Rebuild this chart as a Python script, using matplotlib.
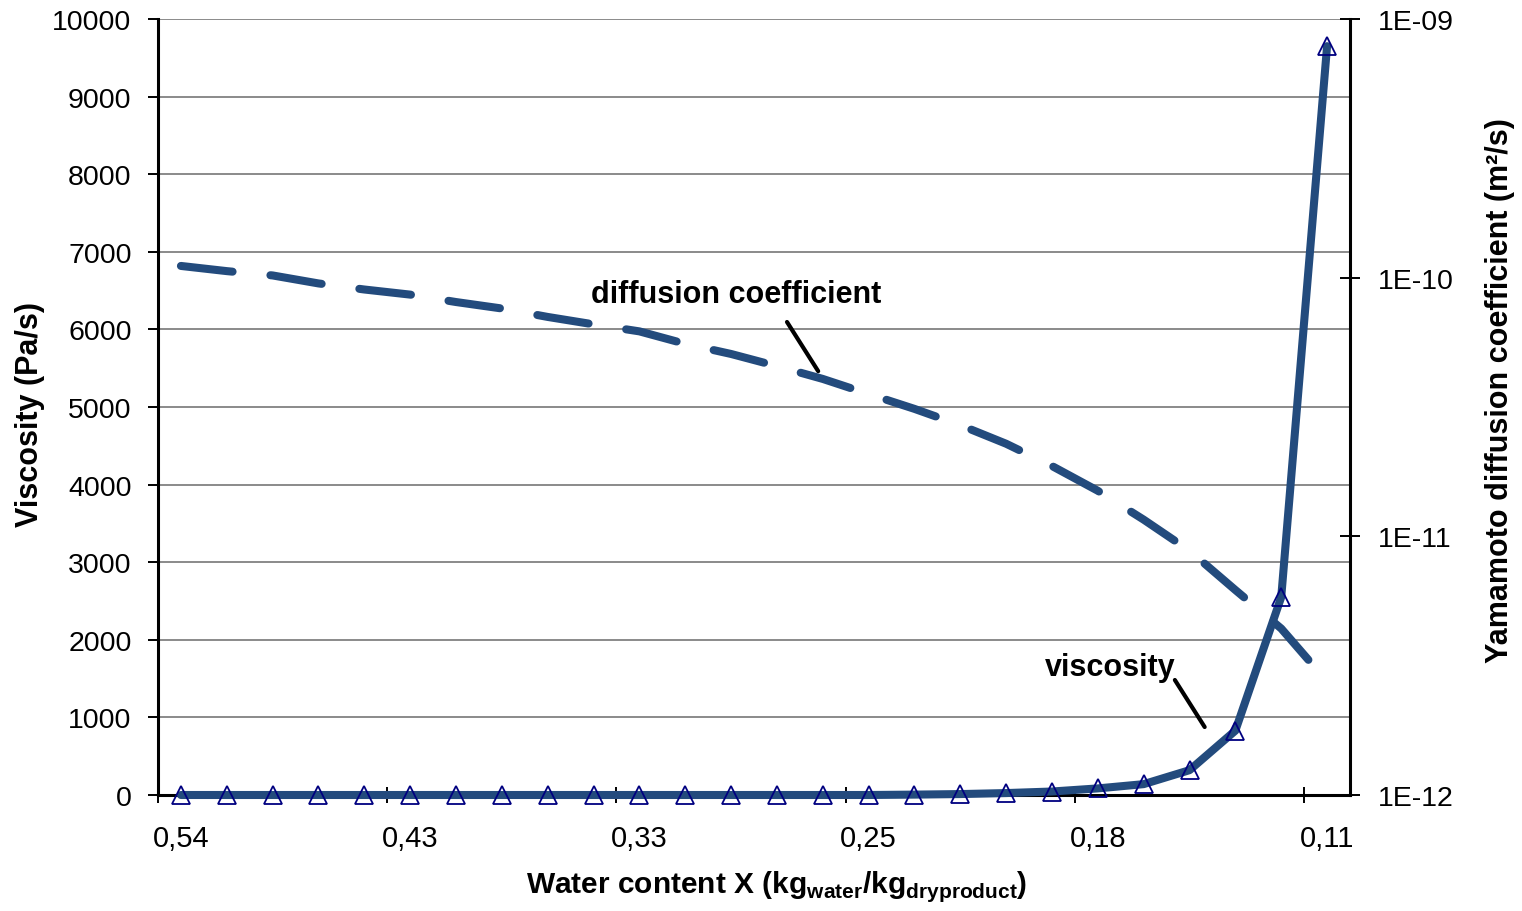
import matplotlib
matplotlib.use("Agg")
import matplotlib.pyplot as plt
from matplotlib.ticker import FixedLocator, FuncFormatter, NullLocator
import numpy as np

# water content labels shown under every fifth sample (kg water / kg dry product)
x_labels = ["0,54", "0,43", "0,33", "0,25", "0,18", "0,11"]

# viscosity of the product at each sample (Pa/s)
viscosity = [0, 0, 0, 0, 0, 0, 0, 0, 0, 0, 0, 0, 0, 0, 0, 0,
             5, 12, 25, 45, 85, 140, 320, 830, 2550, 9650]

# Yamamoto diffusion coefficient at each sample (m2/s)
diffusion = [1.11e-10, 1.06e-10, 1.02e-10, 9.5e-11, 9.0e-11, 8.6e-11,
             8.05e-11, 7.6e-11, 7.05e-11, 6.6e-11, 6.2e-11, 5.55e-11,
             5.07e-11, 4.55e-11, 4.06e-11, 3.55e-11, 3.11e-11, 2.69e-11,
             2.28e-11, 1.87e-11, 1.50e-11, 1.16e-11, 8.8e-12, 6.2e-12,
             4.4e-12, 2.75e-12]

LINE_COLOR = "#234b7d"
MARKER_COLOR = "#000080"
GRID_COLOR = "#8a8a8a"

plt.rcParams["font.family"] = ["Liberation Sans", "DejaVu Sans"]
plt.rcParams["mathtext.fontset"] = "custom"
plt.rcParams["mathtext.rm"] = "Liberation Sans"
plt.rcParams["mathtext.bf"] = "Liberation Sans:bold"


def plot_results():
  fig = plt.figure(figsize=(15.22, 9.12), dpi=100)
  ax1 = fig.add_axes([158 / 1522, 1 - 796 / 912, 1192 / 1522, 776 / 912])
  ax2 = ax1.twinx()

  x = np.arange(len(viscosity))

  # viscosity: solid line with open triangles (left axis)
  ax1.plot(x, viscosity, color=LINE_COLOR, lw=5.8, solid_joinstyle="round",
           solid_capstyle="round", zorder=3, clip_on=False)
  ax1.plot(x, viscosity, ls="none", marker="^", ms=13, mfc="none",
           mec=MARKER_COLOR, mew=1.3, zorder=4, clip_on=False)

  # diffusion coefficient: dashed line (right log axis)
  ax2.plot(x, diffusion, color=LINE_COLOR, lw=5.8, ls=(0, (6.45, 4.72)),
           dash_capstyle="round", clip_on=False)

  # left axis
  ax1.set_ylim(0, 10000)
  ax1.set_yticks(np.arange(0, 10001, 1000))
  ax1.yaxis.grid(True, color=GRID_COLOR, lw=1.4)
  ax1.set_axisbelow(True)
  ax1.tick_params(axis="y", direction="out", length=7, width=1.4, pad=12,
                  labelsize=20.5)

  # category axis: ticks between groups of five, labels on the samples
  ax1.set_xlim(-0.5, len(viscosity) - 0.5)
  ax1.set_xticks(np.arange(-0.5, len(viscosity) - 1, 5))
  ax1.set_xticklabels([])
  ax1.set_xticks(np.arange(0, len(viscosity), 5), minor=True)
  ax1.set_xticklabels(x_labels, minor=True)
  ax1.tick_params(axis="x", which="major", direction="inout", length=11.5,
                  width=1.4)
  ax1.tick_params(axis="x", which="minor", length=0, pad=21, labelsize=21)

  # right axis
  ax2.set_yscale("log")
  ax2.set_ylim(1e-12, 1e-9)
  ax2.yaxis.set_major_locator(FixedLocator([1e-12, 1e-11, 1e-10, 1e-9]))
  ax2.yaxis.set_minor_locator(NullLocator())
  ax2.yaxis.set_major_formatter(
      FuncFormatter(lambda v, p: "1E-%02d" % round(-np.log10(v))))
  ax2.tick_params(axis="y", direction="inout", length=14, width=1.4, pad=13,
                  labelsize=20.5)

  # spines
  ax1.spines["top"].set_visible(False)
  ax1.spines["right"].set_visible(False)
  for side in ["top", "left", "bottom"]:
    ax2.spines[side].set_visible(False)
  for sp in [ax1.spines["left"], ax1.spines["bottom"], ax2.spines["right"]]:
    sp.set_linewidth(2.2)
    sp.set_color("black")

  # axis titles
  ax1.set_xlabel(r"Water content X (kg$_{\mathbf{water}}$/kg$_{\mathbf{dryproduct}}$)",
                 fontsize=21.5, fontweight="bold")
  ax1.xaxis.set_label_coords(0.519, -0.117)
  ax1.xaxis.label.set_va("center")
  ax1.set_ylabel("Viscosity (Pa/s)", fontsize=22, fontweight="bold")
  ax1.yaxis.set_label_coords(-0.107, 0.491)
  ax1.yaxis.label.set_va("center")
  ax2.set_ylabel("Yamamoto diffusion coefficient (m²/s)", fontsize=22,
                 fontweight="bold")
  ax2.yaxis.set_label_coords(1.126, 0.523)
  ax2.yaxis.label.set_va("center")

  # curve labels with leader lines
  ax2.text(12.1, 8.65e-11, "diffusion coefficient", fontsize=22,
           fontweight="bold", ha="center", va="center")
  ax2.annotate("", xy=(13.9, 4.35e-11), xytext=(13.22, 6.74e-11),
               arrowprops=dict(arrowstyle="-", color="black", lw=3,
                               shrinkA=0, shrinkB=0))
  ax1.text(20.28, 1650, "viscosity", fontsize=22, fontweight="bold",
           ha="center", va="center")
  ax1.annotate("", xy=(22.33, 876), xytext=(21.68, 1482),
               arrowprops=dict(arrowstyle="-", color="black", lw=3,
                               shrinkA=0, shrinkB=0))

  fig.savefig("out.png", dpi=100)


def main():
  plot_results()


if __name__ == "__main__":
  main()
